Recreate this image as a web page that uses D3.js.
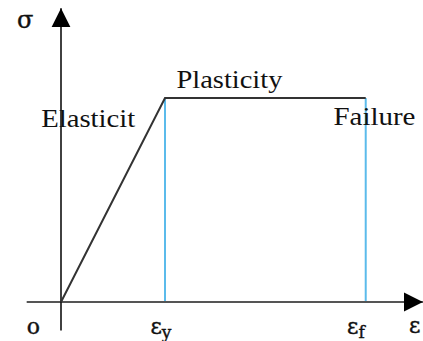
<!DOCTYPE html>
<html>
<head>
<meta charset="utf-8">
<script src="https://cdn.jsdelivr.net/npm/d3@7"></script>
<style>
  body { margin: 0; background: #fff; overflow: hidden; }
  text { font-family: "Liberation Serif", "Times New Roman", serif; fill: #111; }
  text.sym { font-family: "DejaVu Serif", serif; }
</style>
</head>
<body>
<script>
// strain / stress values of the idealised curve
const strainPts = [0, 1, 2.93];     // origin, eps_y, eps_f
const stressPts = [0, 1, 1];
const strainRange = [-0.33, 3.48];  // extent of the strain axis
const stressRange = [-0.14, 1.44];  // extent of the stress axis
const regionLabels = ["Elasticit", "Plasticity", "Failure"];
const tickLabels = ["o", "ε", "ε"];
const tickSubs = ["", "y", "f"];

const width = 423, height = 341;

const svg = d3.select("body").append("svg")
    .attr("width", width)
    .attr("height", height);

const x = d3.scaleLinear().domain([0, 1]).range([61, 165]);
const y = d3.scaleLinear().domain([0, 1]).range([302, 98]);

// arrow heads
const defs = svg.append("defs");
defs.append("marker")
    .attr("id", "arrow")
    .attr("viewBox", "0 0 10 10")
    .attr("refX", 10).attr("refY", 5)
    .attr("markerUnits", "userSpaceOnUse")
    .attr("markerWidth", 19).attr("markerHeight", 20)
    .attr("orient", "auto")
    .append("path")
    .attr("d", "M0,0 L10,5 L0,10 Z")
    .attr("fill", "#000");

// vertical guide lines at eps_y and eps_f
svg.selectAll("line.guide")
    .data(strainPts.slice(1))
    .join("line")
    .attr("class", "guide")
    .attr("x1", d => x(d)).attr("x2", d => x(d))
    .attr("y1", y(1)).attr("y2", y(0))
    .attr("stroke", "#5bbbeb")
    .attr("stroke-width", 2);

// strain axis
svg.append("line")
    .attr("x1", x(strainRange[0])).attr("x2", x(strainRange[1]))
    .attr("y1", y(0)).attr("y2", y(0))
    .attr("stroke", "#555")
    .attr("stroke-width", 2.2)
    .attr("marker-end", "url(#arrow)");

// stress axis
svg.append("line")
    .attr("x1", x(0)).attr("x2", x(0))
    .attr("y1", y(stressRange[0])).attr("y2", y(stressRange[1]))
    .attr("stroke", "#111")
    .attr("stroke-width", 1.6)
    .attr("marker-end", "url(#arrow)");

// the stress-strain curve
const line = d3.line()
    .x(d => x(d[0]))
    .y(d => y(d[1]));

svg.append("path")
    .datum(d3.zip(strainPts, stressPts))
    .attr("d", line)
    .attr("fill", "none")
    .attr("stroke", "#333")
    .attr("stroke-width", 2);

// region labels
const labelPos = [
    {x: -0.19, y: 0.86, w: 94},
    {x: 1.11, y: 1.05, w: 106},
    {x: 2.62, y: 0.87, w: 82}
];
svg.selectAll("text.region")
    .data(regionLabels)
    .join("text")
    .attr("class", "region")
    .attr("x", (d, i) => x(labelPos[i].x))
    .attr("y", (d, i) => y(labelPos[i].y))
    .attr("font-size", 25)
    .attr("textLength", (d, i) => labelPos[i].w)
    .attr("lengthAdjust", "spacingAndGlyphs")
    .text(d => d);

// tick labels under the strain axis
const tickX = [-0.33, 0.86, 2.75];
const ticks = svg.selectAll("text.tick")
    .data(tickLabels)
    .join("text")
    .attr("class", "tick sym")
    .attr("x", (d, i) => x(tickX[i]))
    .attr("y", 334)
    .attr("font-size", 22)
    .attr("stroke", "#111")
    .attr("stroke-width", 0.4);
ticks.append("tspan").text(d => d);
ticks.append("tspan")
    .attr("font-size", 17)
    .attr("dy", 4)
    .text((d, i) => tickSubs[i]);

// axis symbols
svg.append("text")
    .attr("class", "sym")
    .attr("x", x(strainRange[1]) - 14)
    .attr("y", 333)
    .attr("font-size", 22)
    .attr("stroke", "#111")
    .attr("stroke-width", 0.4)
    .text("ε");

svg.append("text")
    .attr("class", "sym")
    .attr("x", 17)
    .attr("y", 28)
    .attr("font-size", 24)
    .attr("stroke", "#111")
    .attr("stroke-width", 0.4)
    .text("σ");
</script>
</body>
</html>
